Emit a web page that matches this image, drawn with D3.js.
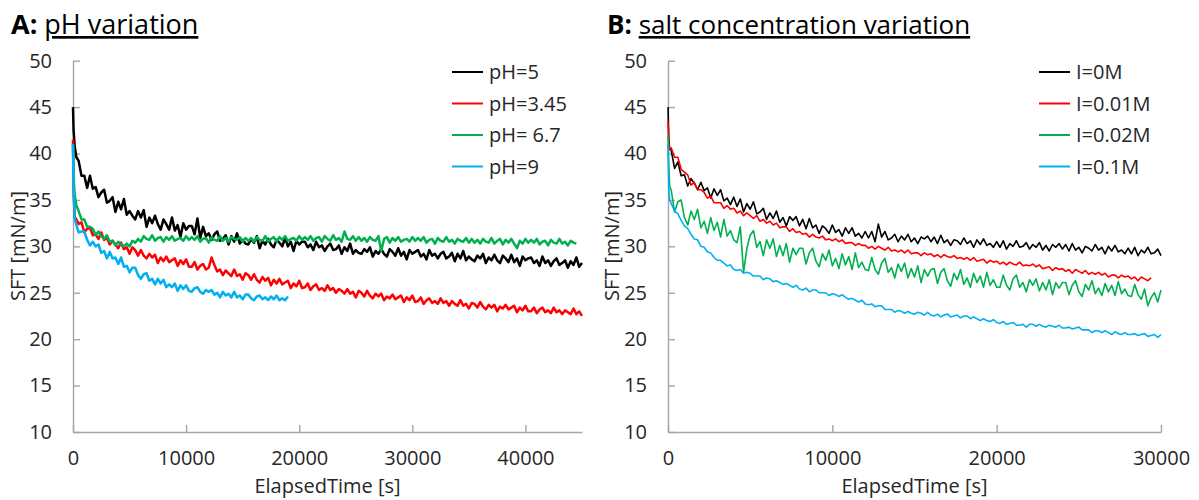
<!DOCTYPE html>
<html>
<head>
<meta charset="utf-8">
<script src="https://cdn.jsdelivr.net/npm/d3@7"></script>
<style>
  body { margin: 0; background: #fff; }
  svg { display: block; font-family: 'Open Sans', sans-serif; }
</style>
</head>
<body>
<div id="chart"></div>
<script>
// ---- panel A: pH variation (time in s, SFT in mN/m) ----
const timeA = [
  0, 50, 150, 300,
  500, 750, 1000, 1250, 1500, 1750, 2000, 2250, 2500, 2750,
  3000, 3250, 3500, 3750, 4000, 4250, 4500, 4750, 5000, 5250,
  5500, 5750, 6000, 6250, 6500, 6750, 7000, 7250, 7500, 7750,
  8000, 8250, 8500, 8750, 9000, 9250, 9500, 9750, 10000, 10250,
  10500, 10750, 11000, 11250, 11500, 11750, 12000, 12250, 12500, 12750,
  13000, 13250, 13500, 13750, 14000, 14250, 14500, 14750, 15000, 15250,
  15500, 15750, 16000, 16250, 16500, 16750, 17000, 17250, 17500, 17750,
  18000, 18250, 18500, 18750, 19000, 19250, 19500, 19750, 20000, 20250,
  20500, 20750, 21000, 21250, 21500, 21750, 22000, 22250, 22500, 22750,
  23000, 23250, 23500, 23750, 24000, 24250, 24500, 24750, 25000, 25250,
  25500, 25750, 26000, 26250, 26500, 26750, 27000, 27250, 27500, 27750,
  28000, 28250, 28500, 28750, 29000, 29250, 29500, 29750, 30000, 30250,
  30500, 30750, 31000, 31250, 31500, 31750, 32000, 32250, 32500, 32750,
  33000, 33250, 33500, 33750, 34000, 34250, 34500, 34750, 35000, 35250,
  35500, 35750, 36000, 36250, 36500, 36750, 37000, 37250, 37500, 37750,
  38000, 38250, 38500, 38750, 39000, 39250, 39500, 39750, 40000, 40250,
  40500, 40750, 41000, 41250, 41500, 41750, 42000, 42250, 42500, 42750,
  43000, 43250, 43500, 43750, 44000, 44250, 44500, 44750, 45000
]
const pH5 = [
  45.0, 42.5, 40.8, 39.6,
  39.2, 37.6, 37.6, 36.3, 37.6, 36.2, 36.4, 35.3, 35.8, 36.1,
  34.7, 34.9, 35.3, 33.7, 34.8, 34.0, 35.1, 33.4, 33.8, 33.3,
  32.9, 33.8, 33.1, 33.9, 32.1, 33.1, 32.5, 33.3, 32.4, 31.8,
  32.9, 32.4, 31.8, 33.1, 31.7, 32.3, 31.0, 32.5, 31.8, 32.2,
  32.2, 31.3, 33.0, 30.9, 32.1, 31.1, 31.4, 30.7, 31.3, 31.6,
  30.6, 30.8, 31.2, 30.2, 31.1, 30.5, 31.4, 30.3, 30.7, 30.3,
  30.2, 30.8, 30.4, 31.1, 29.8, 30.6, 30.2, 30.8, 30.2, 29.9,
  30.7, 30.4, 30.0, 30.9, 30.0, 30.5, 29.5, 30.6, 30.2, 30.5,
  30.5, 29.9, 30.2, 29.6, 30.5, 29.9, 30.1, 29.5, 30.0, 30.3,
  29.6, 29.7, 30.1, 29.2, 29.9, 29.5, 30.3, 29.2, 29.6, 29.3,
  29.2, 29.7, 29.4, 29.9, 28.9, 29.5, 29.2, 29.7, 29.2, 28.9,
  29.7, 29.4, 29.0, 29.8, 29.0, 29.4, 28.6, 29.6, 29.2, 29.4,
  29.6, 28.9, 29.2, 28.6, 29.6, 29.0, 29.2, 28.7, 29.2, 29.4,
  28.7, 28.9, 29.3, 28.4, 29.2, 28.7, 29.5, 28.5, 28.9, 28.6,
  28.4, 29.0, 28.7, 29.2, 28.2, 28.8, 28.5, 29.1, 28.5, 28.2,
  29.0, 28.7, 28.3, 29.1, 28.3, 28.7, 27.9, 28.9, 28.5, 28.7,
  28.8, 28.2, 28.5, 27.9, 28.9, 28.2, 28.5, 27.9, 28.4, 28.7,
  28.0, 28.2, 28.5, 27.7, 28.4, 28.0, 28.8, 27.8, 28.2
]
const pH345 = [
  41.5, 36.0, 33.2, 32.9,
  32.4, 32.6, 31.5, 31.9, 32.0, 31.2, 31.3, 30.8, 31.5, 30.7,
  30.9, 30.2, 30.6, 30.2, 29.8, 30.4, 29.7, 29.9, 29.2, 29.9,
  29.6, 29.0, 29.6, 29.0, 28.7, 29.2, 28.8, 29.1, 28.2, 28.8,
  28.4, 28.9, 28.3, 28.5, 28.7, 27.9, 28.5, 28.1, 28.6, 27.8,
  27.8, 28.3, 27.5, 27.9, 28.1, 27.5, 27.7, 28.8, 28.0, 27.3,
  27.5, 26.9, 27.4, 27.1, 26.8, 27.5, 26.8, 27.0, 26.4, 27.1,
  26.9, 26.4, 27.0, 26.4, 26.1, 26.7, 26.3, 26.6, 25.8, 26.4,
  26.0, 26.5, 25.9, 26.1, 26.3, 25.5, 26.0, 25.7, 26.3, 25.5,
  25.6, 26.0, 25.3, 25.7, 25.9, 25.3, 25.5, 25.2, 25.8, 25.3,
  25.5, 25.0, 25.4, 25.2, 24.9, 25.4, 24.9, 25.1, 24.5, 25.2,
  25.0, 24.6, 25.2, 24.7, 24.4, 24.9, 24.6, 24.9, 24.2, 24.6,
  24.4, 24.8, 24.3, 24.5, 24.7, 24.0, 24.5, 24.2, 24.7, 24.0,
  24.1, 24.5, 23.8, 24.2, 24.4, 23.9, 24.1, 23.8, 24.4, 23.9,
  24.1, 23.6, 24.1, 23.8, 23.6, 24.2, 23.6, 23.8, 23.3, 23.9,
  23.8, 23.4, 24.0, 23.5, 23.2, 23.7, 23.4, 23.7, 23.0, 23.5,
  23.3, 23.7, 23.2, 23.4, 23.6, 22.9, 23.4, 23.1, 23.6, 23.0,
  23.0, 23.4, 22.8, 23.2, 23.4, 22.9, 23.1, 22.8, 23.4, 22.9,
  23.1, 22.7, 23.1, 22.9, 22.7, 23.3, 22.7, 23.0, 22.5
]
const pH67 = [
  41.0, 37.5, 35.5, 34.4,
  33.8, 32.9, 32.9, 32.1, 32.1, 31.9, 31.2, 31.6, 31.1, 30.8,
  31.2, 30.5, 30.6, 30.1, 30.5, 30.2, 30.0, 30.3, 30.0, 30.6,
  30.4, 30.8, 30.5, 31.1, 30.8, 30.7, 31.2, 30.6, 30.9, 31.0,
  30.5, 31.0, 30.7, 31.1, 30.6, 30.8, 30.9, 30.6, 31.1, 30.7,
  31.0, 30.7, 31.1, 30.5, 30.8, 30.9, 30.4, 31.0, 30.7, 30.6,
  31.1, 30.6, 30.9, 30.5, 31.0, 30.8, 30.7, 31.0, 30.5, 30.9,
  30.6, 30.9, 30.5, 31.0, 30.7, 30.6, 31.1, 30.5, 30.8, 31.0,
  30.5, 31.0, 30.7, 31.1, 30.6, 30.8, 30.9, 30.6, 31.1, 30.7,
  31.0, 30.7, 31.1, 30.6, 30.9, 31.0, 30.5, 31.1, 30.8, 30.6,
  31.2, 30.7, 30.9, 30.5, 31.6, 30.8, 30.7, 31.1, 30.6, 31.0,
  30.6, 30.9, 30.5, 31.0, 30.7, 30.6, 31.1, 29.5, 30.8, 31.0,
  30.4, 30.9, 30.6, 31.0, 30.5, 30.7, 30.8, 30.5, 31.0, 30.6,
  30.9, 30.6, 31.0, 30.4, 30.7, 30.8, 30.3, 30.9, 30.6, 30.5,
  31.0, 30.5, 30.7, 30.3, 30.8, 30.6, 30.5, 30.9, 30.4, 30.8,
  30.4, 30.7, 30.3, 30.8, 30.5, 30.4, 30.9, 30.3, 30.6, 30.8,
  30.2, 30.7, 30.4, 30.8, 30.3, 29.8, 30.6, 30.3, 30.8, 30.4,
  30.7, 30.4, 30.8, 30.2, 30.5, 30.6, 30.1, 30.7, 30.4, 30.3,
  30.8, 30.3, 30.5, 30.1, 30.6, 30.4, 30.3
]
const pH9 = [
  41.0, 36.0, 33.0, 32.3,
  31.5, 31.6, 31.6, 30.7, 30.1, 30.5, 30.0, 30.2, 29.3, 29.5,
  28.7, 29.4, 28.7, 28.8, 28.1, 28.8, 27.8, 27.9, 27.2, 27.7,
  27.7, 26.9, 26.5, 27.0, 27.1, 26.3, 26.5, 25.9, 26.5, 26.0,
  26.4, 25.6, 25.9, 25.6, 26.0, 25.2, 25.8, 25.4, 25.8, 25.2,
  25.1, 25.5, 25.6, 25.1, 24.9, 25.3, 25.1, 25.3, 24.8, 25.0,
  24.5, 25.1, 24.7, 24.9, 24.5, 25.1, 24.5, 24.7, 24.3, 24.8,
  24.8, 24.4, 24.2, 24.6, 24.7, 24.3, 24.5, 24.2, 24.6, 24.3,
  24.7, 24.2, 24.4, 24.2, 24.6
]
const namesA = ['pH=5', 'pH=3.45', 'pH= 6.7', 'pH=9']

// ---- panel B: salt concentration variation ----
const timeB = [
  0, 50, 100,
  200, 400, 600, 800, 1000, 1200, 1400, 1600, 1800, 2000,
  2200, 2400, 2600, 2800, 3000, 3200, 3400, 3600, 3800, 4000,
  4200, 4400, 4600, 4800, 5000, 5200, 5400, 5600, 5800, 6000,
  6200, 6400, 6600, 6800, 7000, 7200, 7400, 7600, 7800, 8000,
  8200, 8400, 8600, 8800, 9000, 9200, 9400, 9600, 9800, 10000,
  10200, 10400, 10600, 10800, 11000, 11200, 11400, 11600, 11800, 12000,
  12200, 12400, 12600, 12800, 13000, 13200, 13400, 13600, 13800, 14000,
  14200, 14400, 14600, 14800, 15000, 15200, 15400, 15600, 15800, 16000,
  16200, 16400, 16600, 16800, 17000, 17200, 17400, 17600, 17800, 18000,
  18200, 18400, 18600, 18800, 19000, 19200, 19400, 19600, 19800, 20000,
  20200, 20400, 20600, 20800, 21000, 21200, 21400, 21600, 21800, 22000,
  22200, 22400, 22600, 22800, 23000, 23200, 23400, 23600, 23800, 24000,
  24200, 24400, 24600, 24800, 25000, 25200, 25400, 25600, 25800, 26000,
  26200, 26400, 26600, 26800, 27000, 27200, 27400, 27600, 27800, 28000,
  28200, 28400, 28600, 28800, 29000, 29200, 29400, 29600, 29800, 30000
]
const I0 = [
  45.0, 41.5, 40.5,
  40.3, 38.4, 39.1, 37.6, 37.7, 36.5, 37.3, 36.8, 36.1, 36.9,
  36.0, 36.3, 35.2, 36.2, 35.5, 36.1, 34.9, 35.2, 34.5, 35.3,
  34.3, 35.1, 33.7, 34.6, 34.0, 34.8, 33.5, 33.7, 34.1, 32.9,
  33.6, 33.0, 33.8, 32.6, 33.1, 32.2, 33.2, 32.8, 33.2, 32.2,
  32.9, 31.9, 33.0, 32.0, 32.3, 31.4, 32.2, 31.9, 31.4, 32.3,
  31.5, 31.8, 31.1, 32.0, 31.4, 32.0, 31.1, 31.4, 30.9, 31.6,
  30.9, 31.6, 30.5, 32.4, 31.0, 31.6, 30.7, 30.9, 31.3, 30.5,
  31.1, 30.7, 31.3, 30.5, 30.9, 30.3, 31.0, 30.8, 31.1, 30.5,
  31.0, 30.3, 31.2, 30.4, 30.7, 30.1, 30.7, 30.6, 30.2, 30.9,
  30.3, 30.6, 29.9, 30.7, 30.2, 30.8, 30.1, 30.3, 29.9, 30.5,
  29.9, 30.6, 29.7, 30.3, 30.0, 30.6, 29.9, 30.0, 30.4, 29.7,
  30.2, 29.9, 30.4, 29.6, 30.1, 29.5, 30.2, 29.9, 30.3, 29.7,
  30.2, 29.5, 30.3, 29.6, 29.9, 29.3, 30.0, 29.8, 29.5, 30.2,
  29.6, 29.9, 29.2, 30.0, 29.5, 30.1, 29.4, 29.6, 29.2, 29.8,
  29.2, 29.9, 29.0, 29.6, 29.3, 29.9, 29.2, 29.3, 29.7, 29.0
]
const I001 = [
  43.5, 41.0, 40.5,
  40.6, 39.6, 39.6, 38.3, 38.0, 37.7, 36.6, 36.9, 36.1, 36.1,
  35.8, 35.2, 35.4, 34.7, 34.7, 34.7, 34.1, 34.4, 34.0, 34.1,
  33.6, 33.8, 33.3, 33.6, 33.3, 33.0, 33.3, 32.7, 32.9, 32.5,
  32.7, 32.3, 32.5, 32.0, 32.1, 32.1, 31.6, 31.9, 31.5, 31.6,
  31.3, 31.4, 31.0, 31.3, 31.0, 30.9, 31.1, 30.7, 30.8, 30.6,
  30.8, 30.5, 30.7, 30.3, 30.4, 30.4, 30.1, 30.3, 30.1, 30.1,
  29.8, 30.0, 29.7, 30.0, 29.8, 29.6, 29.9, 29.5, 29.6, 29.4,
  29.6, 29.3, 29.6, 29.2, 29.3, 29.3, 29.0, 29.3, 29.1, 29.2,
  28.9, 29.1, 28.8, 29.1, 28.9, 28.8, 29.0, 28.7, 28.8, 28.6,
  28.8, 28.5, 28.8, 28.4, 28.5, 28.6, 28.2, 28.5, 28.3, 28.4,
  28.1, 28.3, 28.0, 28.3, 28.1, 28.0, 28.3, 27.9, 28.0, 27.9,
  28.1, 27.8, 28.0, 27.6, 27.7, 27.8, 27.4, 27.7, 27.5, 27.6,
  27.3, 27.5, 27.1, 27.5, 27.3, 27.1, 27.4, 27.0, 27.2, 27.0,
  27.2, 26.9, 27.1, 26.7, 26.9, 26.9, 26.6, 26.9, 26.7, 26.8,
  26.5, 26.7, 26.3, 26.7, 26.5, 26.3, 26.6
]
const I002 = [
  42.0, 38.5, 36.5,
  36.0, 33.7, 34.8, 35.0, 33.1, 32.3, 33.8, 32.9, 34.0, 32.0,
  32.7, 31.4, 33.1, 31.7, 32.6, 31.0, 32.9, 31.1, 31.7, 30.7,
  30.4, 32.1, 27.2, 29.8, 31.2, 31.7, 29.9, 30.5, 29.0, 30.7,
  29.8, 30.8, 28.9, 30.1, 29.0, 30.3, 28.3, 29.8, 29.1, 29.8,
  29.8, 28.1, 29.3, 29.8, 28.4, 27.8, 29.2, 28.5, 29.6, 27.9,
  28.7, 27.6, 29.2, 28.0, 28.9, 27.5, 29.3, 27.7, 28.3, 27.5,
  27.4, 28.8, 27.5, 27.0, 28.2, 28.7, 27.2, 27.7, 26.6, 28.1,
  27.3, 28.2, 26.6, 27.6, 26.7, 27.9, 26.1, 27.5, 26.8, 27.5,
  27.6, 26.0, 27.2, 27.6, 26.3, 25.7, 27.1, 26.4, 27.5, 25.9,
  26.6, 25.6, 27.1, 26.1, 26.8, 25.6, 27.2, 25.8, 26.4, 25.6,
  25.6, 26.9, 25.8, 25.3, 26.5, 26.9, 25.6, 26.1, 25.1, 26.4,
  25.8, 26.5, 25.2, 26.1, 25.3, 26.4, 24.8, 26.1, 25.5, 26.1,
  26.1, 24.8, 25.8, 26.3, 25.1, 24.6, 25.9, 25.3, 26.3, 24.9,
  25.5, 24.7, 26.0, 25.1, 25.8, 24.7, 26.2, 24.9, 25.4, 24.7,
  24.6, 25.9, 24.8, 24.3, 25.4, 23.6, 24.5, 25.0, 24.0, 25.3
]
const I01 = [
  41.0, 36.0, 35.0,
  34.6, 33.8, 33.5, 32.8, 32.2, 31.9, 31.3, 30.8, 30.7, 30.0,
  29.9, 29.4, 29.3, 28.8, 28.5, 28.5, 28.2, 27.9, 28.0, 27.5,
  27.4, 27.5, 27.1, 27.2, 27.1, 26.8, 26.8, 26.8, 26.4, 26.6,
  26.5, 26.2, 26.3, 26.1, 25.9, 26.0, 25.8, 25.6, 25.8, 25.4,
  25.3, 25.5, 25.1, 25.3, 25.3, 25.0, 25.0, 25.0, 24.7, 24.9,
  24.8, 24.6, 24.8, 24.5, 24.3, 24.4, 24.2, 24.0, 24.2, 23.8,
  23.7, 23.8, 23.5, 23.6, 23.6, 23.2, 23.2, 23.2, 22.9, 23.1,
  23.0, 22.8, 23.0, 22.8, 22.7, 22.9, 22.8, 22.6, 22.9, 22.6,
  22.5, 22.7, 22.4, 22.6, 22.7, 22.4, 22.5, 22.6, 22.3, 22.5,
  22.5, 22.2, 22.4, 22.2, 22.0, 22.2, 22.0, 21.9, 22.1, 21.8,
  21.7, 21.9, 21.6, 21.7, 21.8, 21.5, 21.5, 21.6, 21.3, 21.6,
  21.6, 21.4, 21.6, 21.4, 21.3, 21.5, 21.4, 21.3, 21.5, 21.2,
  21.2, 21.3, 21.1, 21.2, 21.3, 21.0, 21.0, 21.0, 20.7, 20.9,
  20.9, 20.7, 20.9, 20.7, 20.5, 20.8, 20.6, 20.5, 20.7, 20.5,
  20.5, 20.6, 20.4, 20.5, 20.6, 20.3, 20.4, 20.5, 20.2, 20.5
]
const namesB = ['I=0M', 'I=0.01M', 'I=0.02M', 'I=0.1M']

const yTicks = [10, 15, 20, 25, 30, 35, 40, 45, 50]
const xTicksA = [0, 10000, 20000, 30000, 40000]
const xTicksB = [0, 10000, 20000, 30000]
const colors = ['#000000', '#ff0000', '#00b050', '#00b0f0']

const svg = d3.select('#chart').append('svg')
  .attr('width', 1199)
  .attr('height', 500)

function drawPanel (p) {
  const x = d3.scaleLinear().domain([0, p.xMax]).range([p.left, p.right])
  const y = d3.scaleLinear().domain([10, 50]).range([432, 60.7])
  const g = svg.append('g')

  // title
  const title = g.append('text')
    .attr('x', p.titleX)
    .attr('y', 34)
    .style('font-size', p.titleSize)
    .attr('fill', '#000')
  title.append('tspan').style('font-weight', 700).text(p.letter + ':')
  title.append('tspan').text(' ')
  title.append('tspan').style('text-decoration', 'underline').text(p.title)

  // axes
  const xAxis = g.append('g')
    .attr('transform', 'translate(0,432)')
    .call(d3.axisBottom(x).tickValues(p.xTicks).tickFormat(d3.format('d'))
      .tickSize(-7).tickSizeOuter(0).tickPadding(19))
  const yAxis = g.append('g')
    .attr('transform', `translate(${p.left},0)`)
    .call(d3.axisLeft(y).tickValues(yTicks).tickSize(-7).tickSizeOuter(0).tickPadding(21))

  ;[xAxis, yAxis].forEach(a => {
    a.selectAll('path, line').attr('stroke', '#a6a6a6').attr('stroke-width', 1.4)
    a.selectAll('text').attr('fill', '#262626').style('font-size', '20px')
      .style('font-family', "'Open Sans', sans-serif")
  })

  g.append('text')
    .attr('transform', `translate(${p.yLabelX},246) rotate(-90)`)
    .attr('text-anchor', 'middle')
    .attr('dy', '0.35em')
    .attr('fill', '#262626')
    .style('font-size', '20px')
    .text('SFT [mN/m]')

  g.append('text')
    .attr('x', (p.left + p.right) / 2)
    .attr('y', 493)
    .attr('text-anchor', 'middle')
    .attr('fill', '#262626')
    .style('font-size', '20px')
    .text('ElapsedTime [s]')

  // series
  const line = d3.line()
    .x(d => x(d[0]))
    .y(d => y(d[1]))

  p.series.forEach((vals, i) => {
    g.append('path')
      .datum(d3.zip(p.time, vals))
      .attr('fill', 'none')
      .attr('stroke', colors[i])
      .attr('stroke-width', p.lineWidth)
      .attr('stroke-linejoin', 'round')
      .attr('d', line)
  })

  // legend
  const rows = [72, 103.5, 135, 166.5]
  p.names.forEach((name, i) => {
    g.append('line')
      .attr('x1', p.legendX).attr('x2', p.legendX + 31)
      .attr('y1', rows[i]).attr('y2', rows[i])
      .attr('stroke', colors[i])
      .attr('stroke-width', 2)
    g.append('text')
      .attr('x', p.legendX + 37)
      .attr('y', rows[i])
      .attr('dy', '0.35em')
      .attr('fill', '#262626')
      .style('font-size', '20px')
      .text(name)
  })
}

drawPanel({
  letter: 'A', title: 'pH variation', titleX: 11, titleSize: '27px',
  xMax: 45000, xTicks: xTicksA, left: 73, right: 582, yLabelX: 17.5,
  time: timeA, series: [pH5, pH345, pH67, pH9], names: namesA,
  legendX: 452, lineWidth: 2.5
})

drawPanel({
  letter: 'B', title: 'salt concentration variation', titleX: 607, titleSize: '26px',
  xMax: 30000, xTicks: xTicksB, left: 668, right: 1161, yLabelX: 612,
  time: timeB, series: [I0, I001, I002, I01], names: namesB,
  legendX: 1039, lineWidth: 1.6
})
</script>
</body>
</html>
